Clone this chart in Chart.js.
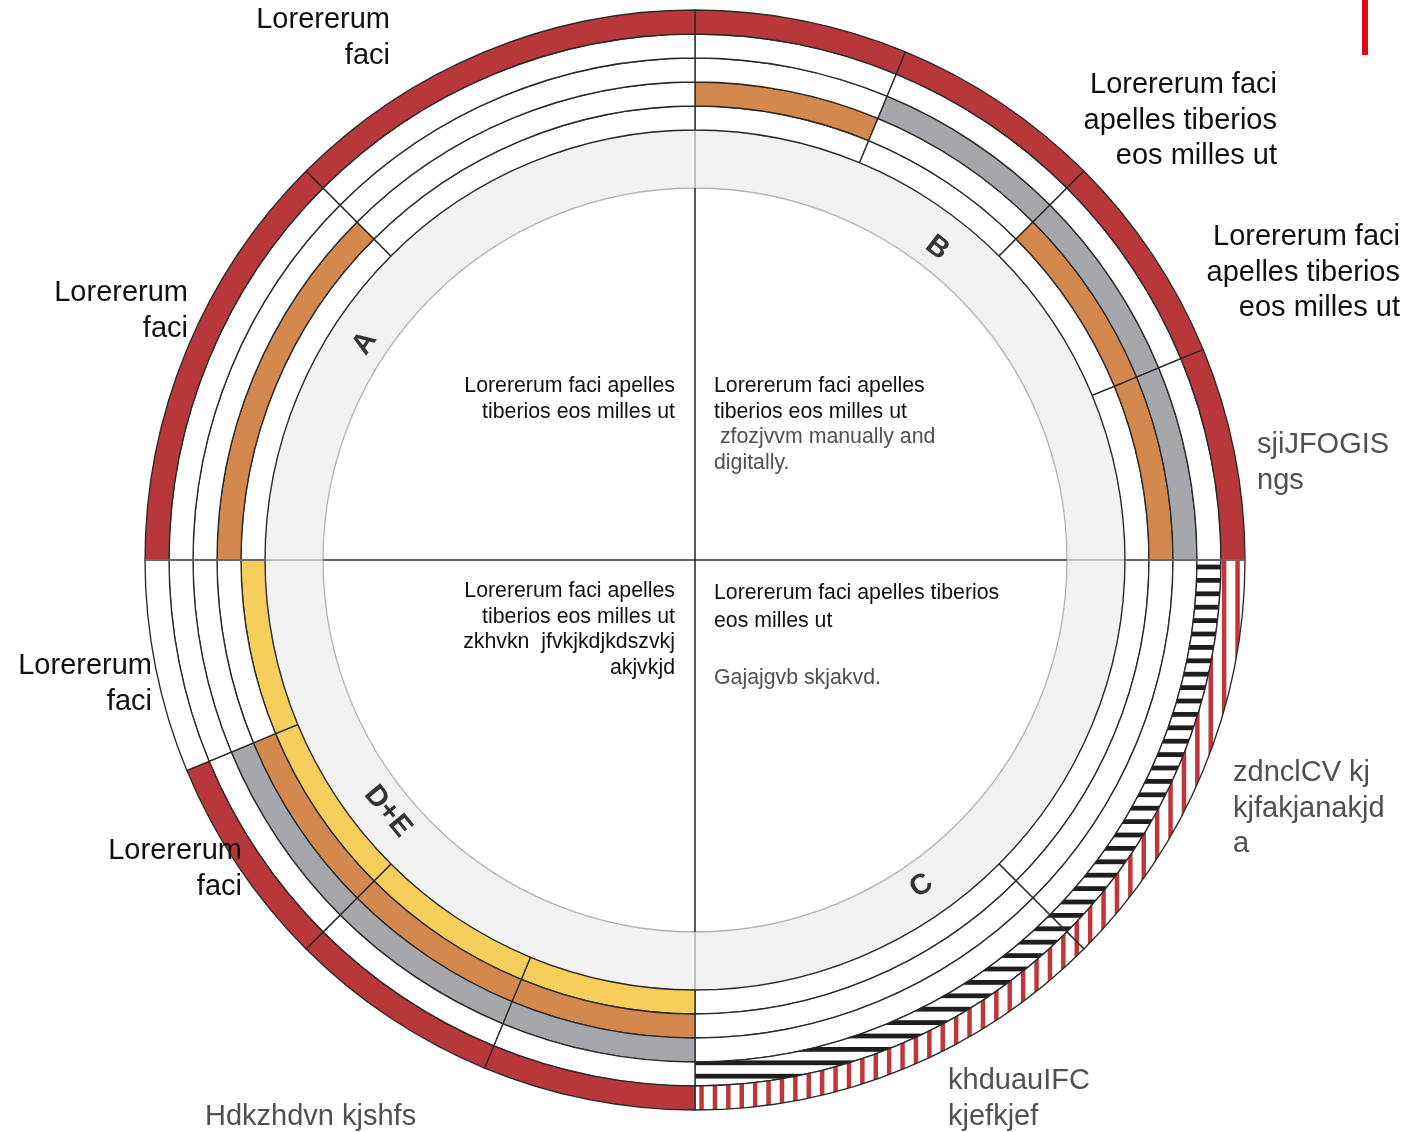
<!DOCTYPE html>
<html><head><meta charset="utf-8">
<script src="https://cdn.jsdelivr.net/npm/chart.js@4.4.1/dist/chart.umd.min.js"></script>
<style>
html,body{margin:0;padding:0;background:#fff;}
#wrap{position:relative;width:1423px;height:1132px;overflow:hidden;font-family:'Liberation Sans',Arial,sans-serif;}
#c{position:absolute;left:0;top:0;width:1423px;height:1132px;}
.lbl{position:absolute;font-size:29px;line-height:35.5px;color:#111;white-space:nowrap;}
.r{text-align:right;}
.g{color:#505050;}
.in{position:absolute;font-size:21.3px;line-height:25.7px;color:#111;white-space:nowrap;}
.gi{color:#505050;}
#mark{position:absolute;left:1362px;top:0;width:6px;height:55px;background:#e30613;}
</style></head><body>
<div id="wrap">
<canvas id="c" width="1423" height="1132"></canvas>
<div id="mark"></div>

<div class="lbl r" style="right:1033px;top:1px;">Lorererum<br>faci</div>
<div class="lbl r" style="right:1235px;top:274px;">Lorererum<br>faci</div>
<div class="lbl r" style="right:146px;top:66px;">Lorererum faci<br>apelles tiberios<br>eos milles ut</div>
<div class="lbl r" style="right:23px;top:218px;">Lorererum faci<br>apelles tiberios<br>eos milles ut</div>
<div class="lbl r" style="right:1271px;top:647px;">Lorererum<br>faci</div>
<div class="lbl r" style="right:1181px;top:832px;">Lorererum<br>faci</div>

<div class="lbl g" style="left:1257px;top:426px;">sjiJFOGIS<br>ngs</div>
<div class="lbl g" style="left:1233px;top:754px;">zdnclCV kj<br>kjfakjanakjd<br>a</div>
<div class="lbl g" style="left:948px;top:1062px;">khduauIFC<br>kjefkjef</div>
<div class="lbl g" style="left:205px;top:1098px;">Hdkzhdvn kjshfs</div>

<div class="in r" style="right:748px;top:373px;">Lorererum faci apelles<br>tiberios eos milles ut</div>
<div class="in" style="left:714px;top:373px;">Lorererum faci apelles<br>tiberios eos milles ut<br><span class="gi">&nbsp;zfozjvvm manually and<br>digitally.</span></div>
<div class="in r" style="right:748px;top:578px;">Lorererum faci apelles<br>tiberios eos milles ut<br>zkhvkn&nbsp; jfvkjkdjkdszvkj<br>akjvkjd</div>
<div class="in" style="left:714px;top:578px;line-height:28.3px;">Lorererum faci apelles tiberios<br>eos milles ut<br><br><span class="gi">Gajajgvb skjakvd.</span></div>
</div>

<script>
// ---- data ----
const segments = ['B1','B2','B3','B4','C1','C2','D1','D2','D3','D4','A1','A2'];
const segmentSpan = [22.5,22.5,22.5,22.5,45,45,22.5,22.5,22.5,22.5,45,45];
// status codes per ring (outer -> inner): R red, S striped red, H hatched black, G gray, O orange, Y yellow, - empty
const ring1 = ['R','R','R','R','S','S','R','R','R','-','R','R'];
const ring2 = ['-','-','-','-','H','H','-','-','-','-','-','-'];
const ring3 = ['-','G','G','G','-','-','G','G','G','-','-','-'];
const ring4 = ['O','-','O','O','-','-','O','O','O','-','O','-'];
const ring5 = ['-','-','-','-','-','-','Y','Y','Y','Y','-','-'];
const quadrants = ['B','C','D+E','A'];
const quadrantSpan = [90,90,90,90];

// ---- styles ----
const quadrantLabelAngles = [37.8,145.2,230.7,303.3];
function stripePattern(vertical, color, period, width, offset){
  const n = 5, size = Math.round(period*n);
  const cv = document.createElement('canvas');
  cv.width = size; cv.height = size;
  const g = cv.getContext('2d');
  g.fillStyle = '#ffffff'; g.fillRect(0,0,size,size);
  g.fillStyle = color;
  for (let k=-1;k<=n;k++){
    const p = offset + k*period;
    if (vertical) g.fillRect(p,0,width,size); else g.fillRect(0,p,size,width);
  }
  return g.createPattern(cv,'repeat');
}
const stripeRed = stripePattern(true,'#c0373b',13.4,4.5,2.5);
const hatchBlack = stripePattern(false,'#1e1e1e',13.4,4.8,1.8);
const palette = {R:'#b7373a', S:stripeRed, H:hatchBlack, G:'#a6a7ab', O:'#d3894d', Y:'#f6ce5c', '-':'#ffffff'};
const colorsOf = ring => ring.map(c => palette[c]);

const ringDs = [ring1,ring2,ring3,ring4,ring5].map((r,i)=>({
  label:'ring'+(i+1), data:segmentSpan, backgroundColor:colorsOf(r),
  borderColor:'#2a2a2a', borderWidth:1.35, weight:1
}));
ringDs.push({label:'quadrants', data:quadrantSpan, backgroundColor:'#f2f2f2',
  borderColor:'#b3b3b3', borderWidth:1.3, weight:58/24});

const decor = {
  id:'decor',
  afterDatasetsDraw(chart){
    const ctx = chart.ctx;
    const band = chart.getDatasetMeta(5).data[0];
    const outer = chart.getDatasetMeta(0).data[0].outerRadius;
    const cx = band.x, cy = band.y, ri = band.innerRadius, ro = band.outerRadius;
    ctx.save();
    ctx.strokeStyle = '#6a6a6a'; ctx.lineWidth = 2;
    ctx.beginPath();
    ctx.moveTo(cx-outer,cy); ctx.lineTo(cx-ro,cy);
    ctx.moveTo(cx-ri,cy); ctx.lineTo(cx+ri,cy);
    ctx.moveTo(cx+ro,cy); ctx.lineTo(cx+outer,cy);
    ctx.stroke();
    ctx.strokeStyle = '#222'; ctx.lineWidth = 1.5;
    ctx.beginPath(); ctx.moveTo(cx,cy-ri); ctx.lineTo(cx,cy+ri); ctx.stroke();
    ctx.fillStyle = '#333';
    ctx.font = 'bold 29px "Liberation Sans", Arial, sans-serif';
    ctx.textAlign = 'center'; ctx.textBaseline = 'middle';
    const rl = (ri+ro)/2 - 5;
    quadrants.forEach((q,i)=>{
      const a = quadrantLabelAngles[i]*Math.PI/180;
      const x = cx + rl*Math.sin(a), y = cy - rl*Math.cos(a);
      let rot = quadrantLabelAngles[i];
      if (rot>90 && rot<270) rot -= 180;
      ctx.save(); ctx.translate(x,y); ctx.rotate(rot*Math.PI/180);
      ctx.fillText(q,0,1); ctx.restore();
    });
    ctx.restore();
  }
};

new Chart(document.getElementById('c'), {
  type:'doughnut',
  data:{labels:segments, datasets:ringDs},
  options:{
    responsive:false, animation:false, events:[],
    radius:550, cutout:(372/550*100)+'%', rotation:0, circumference:360,
    layout:{padding:{left:145,right:178,top:10,bottom:22}},
    plugins:{legend:{display:false}, tooltip:{enabled:false}, title:{display:false}}
  },
  plugins:[decor]
});
</script>
</body></html>
